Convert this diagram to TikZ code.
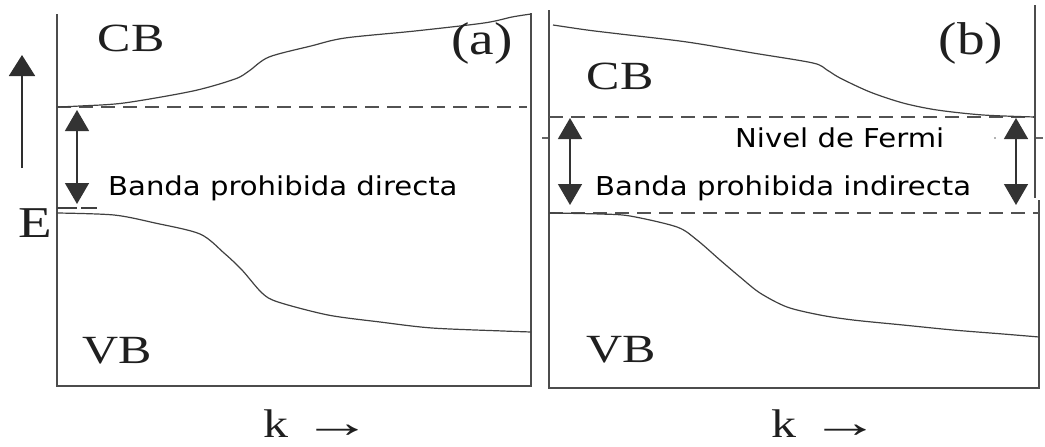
\documentclass[tikz,border=0pt]{standalone}
\usepackage{graphicx}
\usepackage{fontspec}
\setmainfont{Liberation Serif}
\newfontfamily\labelsans{DejaVu Sans}
\usetikzlibrary{arrows.meta}

% horizontally widened lettering
\newcommand\widetext[2][1.25]{\scalebox{#1}[1]{#2}}
% wavevector label with a long thin arrow
\newcommand\kaxis{\widetext{k}\hspace{14pt}\scalebox{1.75}[1.1]{→}}

\begin{document}
\begin{tikzpicture}[x=1pt,y=-1pt,
  frame/.style={line width=1.9pt, draw=black!70},
  bandline/.style={line width=1.2pt, draw=black!75, line join=round},
  level/.style={line width=1.5pt, draw=black!68, dash pattern=on 14pt off 8pt},
  gaparrow/.style={line width=1.5pt, draw=black!80,
    {Triangle[width=24pt,length=21pt]}-{Triangle[width=24pt,length=21pt]}},
  serif/.style={font=\fontsize{40}{40}\selectfont, text=black!88, inner sep=0pt},
  tag/.style={font=\fontsize{46}{46}\selectfont, text=black!88, inner sep=0pt},
  sanslabel/.style={font=\labelsans\fontsize{26}{26}\selectfont, text=black, inner sep=0pt, anchor=base west},
]
\useasboundingbox (0,0) rectangle (1045,447);

% energy axis
\coordinate (Elow) at (22,168);
\coordinate (Ehigh) at (22,55);
\draw[line width=1.9pt, draw=black!82, -{Triangle[width=26pt,length=21pt]}] (Elow) -- (Ehigh);
\node[serif, font=\fontsize{44}{44}\selectfont] (Elabel) at (35,223) {\widetext{E}};

% ---------------- panel (a): direct gap ----------------
\draw[frame] (57,14) -- (57,386) -- (531,386) -- (531,13);
\draw[level] (57,107) -- (527,107);
\draw[bandline, dash pattern=on 20pt off 4pt] (57,208) -- (97,208);
\draw[bandline] plot[smooth, tension=0.5] coordinates {
  (57,107) (80,106) (124,103) (193,91) (235,79) (249,71) (269,57) (311,46)
  (345,38) (415,31) (484,23) (512,17) (531,14)};
\draw[bandline] plot[smooth, tension=0.5] coordinates {
  (57,213) (114,215) (155,223) (200,234) (224,253) (242,270) (262,293) (278,302)
  (328,315) (380,322) (432,328) (503,331) (531,332)};
\coordinate (gaAtop) at (77,110);
\coordinate (gaAbot) at (77,204);
\draw[gaparrow] (gaAtop) -- (gaAbot);

\node[serif] (cbA) at (131,38.5) {\widetext{CB}};
\node[tag] (tagA) at (482,43) {\widetext[1.2]{(a)}};
\node[serif] (vbA) at (117,351) {\widetext{VB}};
\node[serif] (kA) at (318,424) {\kaxis};
\node[sanslabel] (gapA) at (108,195) {\widetext[1.12]{Banda prohibida directa}};

% ---------------- panel (b): indirect gap ----------------
\draw[frame] (549,10) -- (549,388) -- (1039,388) -- (1039,200);
\draw[frame] (1035,5) -- (1035,198);
\draw[level] (549,117) -- (1035,117);
\draw[level] (549,213) -- (1039,213);
\draw[bandline] plot[smooth, tension=0.5] coordinates {
  (553,25) (587,30) (620,34) (687,42) (753,53) (813,63) (827,70) (840,78)
  (870,92) (903,103) (937,110) (983,115) (1035,117)};
\draw[bandline] plot[smooth, tension=0.5] coordinates {
  (549,213) (600,214) (630,216) (677,227) (697,240) (720,260) (740,277) (760,293)
  (787,307) (820,315) (853,320) (903,325) (953,330) (1003,334) (1039,337)};
\coordinate (gbLtop) at (570,118);
\coordinate (gbLbot) at (570,205);
\coordinate (gbRtop) at (1016,118);
\coordinate (gbRbot) at (1016,205);
\draw[gaparrow] (gbLtop) -- (gbLbot);
\draw[gaparrow] (gbRtop) -- (gbRbot);
% Fermi level ticks
\draw[line width=1.2pt, draw=black!60] (542,138) -- (548,138);
\draw[line width=1.2pt, draw=black!60] (1036,138) -- (1043,138);
\fill[black!60] (995,138) circle (0.9pt);

\node[serif] (cbB) at (620,76) {\widetext{CB}};
\node[tag] (tagB) at (971,43) {\widetext[1.2]{(b)}};
\node[serif] (vbB) at (621,350) {\widetext{VB}};
\node[serif] (kB) at (826,424) {\kaxis};
\node[sanslabel] (fermi) at (735,147) {\widetext[1.12]{Nivel de Fermi}};
\node[sanslabel] (gapB) at (595,195) {\widetext[1.12]{Banda prohibida indirecta}};
\end{tikzpicture}
\end{document}
